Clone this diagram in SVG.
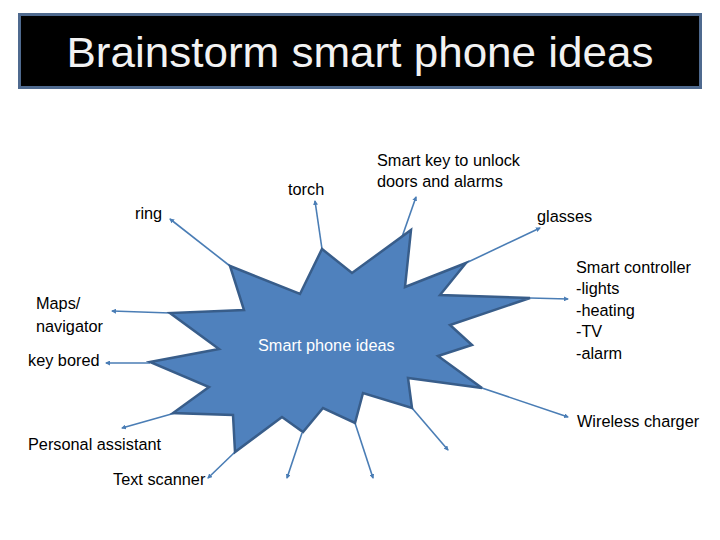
<svg xmlns="http://www.w3.org/2000/svg" width="720" height="540" viewBox="0 0 720 540">
<defs>
<style>
.lbl{font-family:"Liberation Sans",Arial,sans-serif;font-size:16.3px;fill:#000}
.conn line{stroke:#4A7DB5;stroke-width:1.6;marker-end:url(#ah)}
</style>
<marker id="ah" viewBox="0 0 10 10" refX="8" refY="5" markerWidth="5" markerHeight="5" orient="auto" markerUnits="userSpaceOnUse">
<path d="M0,0 L10,5 L0,10 z" fill="#4A7DB5"/>
</marker>
</defs>
<rect width="720" height="540" fill="#fff"/>
<g id="title">
<rect x="19.5" y="14.5" width="681" height="73" fill="#000" stroke="#4F6A8F" stroke-width="3"/>
<text x="360" y="67" text-anchor="middle" font-family="'Liberation Sans',Arial,sans-serif" font-size="42" fill="#F2F2F2" textLength="587" lengthAdjust="spacingAndGlyphs">Brainstorm smart phone ideas</text>
</g>
<g class="conn" id="connectors">
<line x1="230" y1="266" x2="170" y2="219"/>
<line x1="322" y1="249" x2="315" y2="201"/>
<line x1="402" y1="237" x2="416" y2="197"/>
<line x1="466" y1="263" x2="540" y2="228"/>
<line x1="530" y1="298" x2="568" y2="299"/>
<line x1="170" y1="313" x2="112" y2="311"/>
<line x1="150" y1="363" x2="106" y2="363"/>
<line x1="175" y1="413" x2="122" y2="428"/>
<line x1="235" y1="452" x2="208" y2="478"/>
<line x1="302" y1="433" x2="287" y2="478"/>
<line x1="355" y1="423" x2="373" y2="478"/>
<line x1="412" y1="408" x2="448" y2="450"/>
<line x1="482" y1="388" x2="568" y2="417"/>
</g>
<g id="center">
<polygon points="230,266 300,294 322,249 352,273 411,230 405,287 466,263 440,295 530,298 450,325 472,345 438,356 482,388 408,378 412,408 363,393 355,423 323,408 303,432 282,417 235,452 233,415 173,413 209,387 150,362 219,349 170,313 244,310" fill="#4F81BD" stroke="#385D8A" stroke-width="2.5" stroke-linejoin="miter"/>
<text x="258" y="351" font-family="'Liberation Sans',Arial,sans-serif" font-size="16.3" fill="#fff">Smart phone ideas</text>
</g>
<g id="torch"><text class="lbl" x="288" y="195">torch</text></g>
<g id="smartkey"><text class="lbl" x="377" y="166">Smart key to unlock</text><text class="lbl" x="377" y="187">doors and alarms</text></g>
<g id="ring"><text class="lbl" x="135" y="219">ring</text></g>
<g id="glasses"><text class="lbl" x="537" y="222">glasses</text></g>
<g id="controller"><text class="lbl" x="576" y="273">Smart controller</text><text class="lbl" x="576" y="294">-lights</text><text class="lbl" x="576" y="316">-heating</text><text class="lbl" x="576" y="337">-TV</text><text class="lbl" x="576" y="359">-alarm</text></g>
<g id="maps"><text class="lbl" x="36" y="309">Maps/</text><text class="lbl" x="36" y="332">navigator</text></g>
<g id="keybored"><text class="lbl" x="28" y="366">key bored</text></g>
<g id="wireless"><text class="lbl" x="577" y="427">Wireless charger</text></g>
<g id="assistant"><text class="lbl" x="28" y="450">Personal assistant</text></g>
<g id="scanner"><text class="lbl" x="113" y="485">Text scanner</text></g>
</svg>
